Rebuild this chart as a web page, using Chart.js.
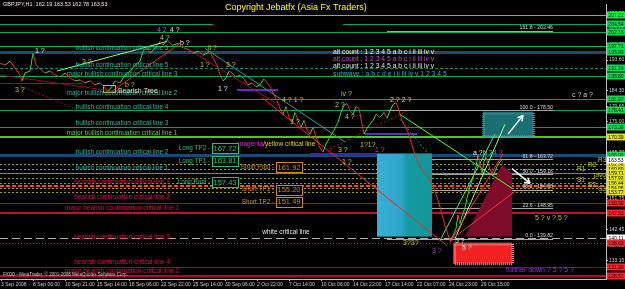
<!DOCTYPE html>
<html>
<head>
<meta charset="utf-8">
<script src="https://cdn.jsdelivr.net/npm/chart.js@4.4.0/dist/chart.umd.min.js"></script>
<style>
html,body{margin:0;padding:0;background:#000;}
canvas{display:block;}
</style>
</head>
<body>
<canvas id="grafico" width="625" height="289"></canvas>
<script>
// Precio GBPJPY H1 (indice de barra, precio)
const barrasPrecio = [0,10,20,30,40,44,50,60,66,72, 80,90,100,110,120,130,140,150,160,170,
    180,190,200,210,216,224,230,240,250,260, 270,280,286,294,300,310,320,326,334,344,
    356,364,376,386,396,406,414,420,426,434, 440,446,452,458,464,472,480,488,496,504,
    512,520,528,534,540,548,554,560,566,572, 578,584,590,596,602,608,614,620,626,634,
    640,646,652,660,668,676,682,688,694,700, 706,712,718,724,728,734,740,746,752,760,
    768,774,780,786,792,798,804,810,816,822, 828,834,840,846,854,860,866,872,878,884,
    890,896,900,906,912,916,920,924,930,934, 940,946,952,956,960,964,968,972,976,982,
    988,994,1000,1004];
const valoresPrecio = [192.66,192.07,193.26,191.18,189.10,187.32,189.69,190.29,195.63,192.07,
    190.88,189.69,190.29,189.10,188.51,189.69,188.21,187.32,187.61,186.72,
    187.32,186.13,186.72,185.24,184.35,185.54,187.32,186.72,189.10,190.29,
    192.07,193.26,196.23,197.41,195.63,197.12,199.19,198.01,199.79,198.01,
    198.60,197.41,196.82,195.63,196.23,195.04,195.63,196.23,194.15,192.07,
    189.10,187.32,188.21,190.29,189.69,188.51,189.10,187.91,186.13,186.72,
    185.54,186.13,187.91,186.72,185.54,183.16,181.38,179.00,177.22,179.60,
    176.33,174.85,177.82,175.44,173.36,175.44,172.47,171.29,173.36,169.50,
    167.13,165.94,168.32,170.39,172.47,174.85,177.82,179.90,180.49,178.41,
    177.22,179.60,179.00,174.25,171.29,173.07,174.25,175.44,177.22,176.33,
    177.82,176.04,178.41,180.19,180.79,178.41,175.44,173.66,171.88,168.91,
    165.94,163.57,161.49,160.00,158.82,157.63,155.55,153.17,150.50,146.94,
    143.67,141.00,139.22,140.70,142.78,146.94,144.27,146.64,149.02,151.99,
    155.55,158.22,161.49,165.05,162.38,159.41,162.97,164.46,162.38,160.00,
    159.41,161.49,162.97,163.57];
const precioActual = 163.53;

// Eje de tiempo
const barrasFecha = [2,66,130,194,258,322,386,450,514,578,642,706,770,834,898,962];
const etiquetasFecha = ["3 Sep 2008","8 Sep 06:00","10 Sep 21:00","15 Sep 14:00","18 Sep 06:00",
    "22 Sep 22:00","25 Sep 14:00","30 Sep 06:00","2 Oct 22:00","7 Oct 14:00","10 Oct 06:00",
    "14 Oct 22:00","17 Oct 14:00","22 Oct 07:00","24 Oct 23:00","29 Oct 15:00"];
const ticksPrecio = [128.50,133.15,137.80,142.45,147.10,151.75,156.40,161.05,165.70,170.35,
    175.00,179.65,184.30,188.95,193.60,198.25,202.90,207.55];

// Lineas criticas horizontales
const nivelesCriticos = [207.21,204.54,202.16,197.71,195.93,191.18,188.80,181.97,178.41,173.36,
    170.39,165.05,159.71,155.55,150.50,147.53,140.11,138.63,131.20,128.53];
const textosCriticos = ["bullish continuation critical line 5","bullish continuation critical line 5",
    "major bullish continuation critical line 3","major bullish continuation critical line 2",
    "bullish continuation critical line 4","bullish continuation critical line 3",
    "major bullish continuation critical line 1","bullish continuation critical line 2",
    "bullish continuation critical line 1","bearish continuation critical line 1",
    "bearish continuation critical line 2","major bearish continuation critical line 1",
    "bearish continuation critical line 3","bearish continuation critical line 4",
    "major bearish continuation critical line 2"];
const preciosTextosCriticos = [197.12,192.07,189.40,183.75,179.30,174.55,171.58,165.94,160.89,
    156.74,152.28,149.02,140.11,132.69,130.02];

// Pivotes
const nombresPivote = ["R3","R2","R1","pivot","S1","S2","S3"];
const preciosPivote = [162.38,160.89,159.71,157.92,156.44,154.96,153.77];
const barrasPivote = [1196,1176,1154,1188,1154,1176,1196];

// Fibonacci
const fiboPorcentaje = ["161.8","100.0","61.8","50.0","38.2","23.6","0.0"];
const fiboPrecio = [202.46,178.50,163.72,159.16,154.58,148.95,139.82];
const fiboBarras = [774,1106];

// Operaciones
const etiquetasOperacion = ["Long TP2","Long TP1","Long Post","Short Post","Short TP1","Short TP2"];
const preciosOperacion = [167.72,163.81,157.43,161.92,155.20,151.49];

// Objetos dibujados
const tramosTendencia = [
    [220,183.75,360,198.60],[524,182.27,894,137.73],[364,198.01,550,180.79],[0,189.10,220,184.35],
    [40,185.83,154,178.71],[800,177.22,1024,154.96],[880,139.22,990,171.29],[910,139.81,1010,174.25],
    [900,138.63,1006,165.35],[900,139.22,1030,154.06],[410,197.12,690,168.91],[800,175.74,934,151.09],
    [114,190.29,334,199.19],[660,166.83,820,178.71]];
const tramosHorizontales = [[0,166,186.72],[474,556,184.65],[730,834,171.29],[620,864,165.35]];
const rectangulos = [[754,864,165.35,140.41],[966,1066,177.82,170.69],[908,1024,138.33,132.39],[206,230,186.13,184.05]];
const poligonoBajista = [[1004,162.08],[1024,159.41],[1024,140.41],[930,140.41]];
const flechas = [[1016,171.29,1046,176.93],[1024,160.89,1060,156.44]];

// Conteo de ondas
const ondasTexto = ["3 ?","1 ?","3 ?","4 2","4 ?","4 ?","b ?","b ?","1 ?","ii ?","3 ?","1 ?","4 ? 1 ?",
    "iv ?","2 ? 2 ?","1 ?","2 ?","4 ?","3 ?","1 ?","1?1?","1 ?","3?3?","3 ?","5 ?","5 ?",
    "a ?","b ?","4 ?","c ? a ?","5 ? v ? 5 ?","further down ? 5 ? 5 ?"];
const ondasBarra = [30,70,164,314,340,320,360,250,400,416,452,436,564,682,780,580,670,690,676,684,
    720,750,806,864,910,924,946,966,986,1144,1070,1012];
const ondasPrecio = [184.65,196.23,192.96,202.76,202.76,200.08,198.60,186.13,192.07,197.12,192.07,
    184.94,181.68,183.46,181.68,174.85,179.90,176.33,166.53,162.97,168.02,166.53,138.33,135.95,
    138.92,136.85,165.64,165.64,165.64,183.16,146.05,130.31];

const conteosAlt = ["alt count : 1 2 3 4 5 a b c i ii iii iv v","alt count : 1 2 3 4 5 a b c i ii iii iv v",
    "alt count : 1 2 3 4 5 a b c i ii iii iv v","subwave : a b c d e i ii iii iv v 1 2 3 4 5"];
const preciosConteo = [195.93,193.85,191.77,189.40];

// ---------- estilos ----------
const FUENTE = '"Liberation Sans", Arial, sans-serif';
const VERDE_TAG = "#00e050", ROJO_TAG = "#ff2030";
const estiloCritico = [
    {c:"#00ff40",w:1,t:"#00ff40"},{c:"#00a868",w:1,t:VERDE_TAG,hueco:[426,686]},{c:"#00b050",w:1,t:VERDE_TAG},
    {c:"#00c050",w:1,t:VERDE_TAG},{c:"#164c6c",w:3,t:VERDE_TAG},{c:"#008a7a",w:1,d:[3,2],t:VERDE_TAG},
    {c:"#00b050",w:1,t:VERDE_TAG},{c:"#00a060",w:1,t:VERDE_TAG},{c:"#00a070",w:1,t:VERDE_TAG},
    {c:"#00a060",w:1,t:VERDE_TAG},{c:"#50c818",w:2,t:"#e0e020"},{c:"#1a4a70",w:3,t:VERDE_TAG},
    {c:"#30a040",w:1,t:VERDE_TAG},{c:"#ff4a00",w:2,d:[4,2],t:"#ff3020"},{c:"#a01030",w:1,t:ROJO_TAG},
    {c:"#c01030",w:2,t:ROJO_TAG},{c:"#b0b0b0",w:1,d:[8,4],t:"#ffffff"},{c:"#804020",w:1,d:[1,2],t:ROJO_TAG},
    {c:"#a00020",w:1,t:ROJO_TAG},{c:"#c00030",w:2,t:ROJO_TAG}];
const colorTextoCritico = i => i === 6 ? "#5cc850" : (i < 9 ? "#2bb59a" : "#d8104c");
const estiloTendencia = [
    {c:"#ff2020"},{c:"#ff2020"},{c:"#a01020"},{c:"#901020"},{c:"#a01020",d:[2,2]},{c:"#40ff40"},
    {c:"#60e060"},{c:"#a0ff80"},{c:"#ff3030"},{c:"#ff3030"},{c:"#20a0a0"},{c:"#2090a0",d:[2,2]},
    {c:"#90ff70"},{c:"#a02010",d:[2,2]}];
const estiloHorizontal = [{c:"#2a2a9a",w:1},{c:"#6a28d0",w:2},{c:"#4a30d0",w:2},{c:"#3a2aa0",w:3}];
const colorOnda = ["#c8c800","#e0e0e0","#c8c800","#d040e0","#e0e0e0","#c8c800","#e0e0e0","#c8c800",
    "#c8c800","#c8c800","#c8c800","#e0e0e0","#c8c800","#c8c800","#d8d890","#c8c800","#c8c800","#c8c800",
    "#c8c800","#c8c800","#c8c800","#d040e0","#c8c800","#a030e0","#e0e0e0","#ffffff","#e0e0e0","#40ff40",
    "#d040e0","#d0d0d0","#c8c800","#a030e0"];
const colorConteo = ["#f0f0b0","#d040d0","#e0e0e0","#20b0c0"];

function linea(ctx, x1, y1, x2, y2, color, ancho, trazo) {
    ctx.beginPath();
    ctx.strokeStyle = color;
    ctx.lineWidth = ancho || 1;
    ctx.setLineDash(trazo || []);
    ctx.moveTo(x1, y1);
    ctx.lineTo(x2, y2);
    ctx.stroke();
    ctx.setLineDash([]);
}

function texto(ctx, t, x, y, color, tam, alinear) {
    ctx.font = `${tam}px ${FUENTE}`;
    ctx.fillStyle = color;
    ctx.textAlign = alinear || "left";
    ctx.textBaseline = "middle";
    ctx.fillText(t, x, y);
}

function nitido(v, ancho) {
    return ancho % 2 === 1 ? Math.round(v) + 0.5 : Math.round(v);
}

const objetosMT4 = {
    id: "objetosMT4",
    beforeDatasetsDraw(chart) {
        const {ctx, chartArea: a, scales: {x, y}} = chart;
        ctx.save();
        ctx.beginPath();
        ctx.rect(a.left, a.top, a.right - a.left, a.bottom - a.top);
        ctx.clip();

        // lineas criticas
        nivelesCriticos.forEach((p, i) => {
            const e = estiloCritico[i];
            const py = nitido(y.getPixelForValue(p), e.w);
            if (e.hueco) {
                linea(ctx, a.left, py, x.getPixelForValue(e.hueco[0]), py, e.c, e.w, e.d);
                linea(ctx, x.getPixelForValue(e.hueco[1]), py, a.right, py, e.c, e.w, e.d);
            } else {
                linea(ctx, a.left, py, a.right, py, e.c, e.w, e.d);
            }
        });
        // pivotes
        preciosPivote.forEach(p => {
            const py = nitido(y.getPixelForValue(p), 1);
            linea(ctx, a.left, py, a.right, py, "#a09a00", 1, [2, 2]);
        });
        // fibonacci
        fiboPrecio.forEach(p => {
            const py = nitido(y.getPixelForValue(p), 1);
            linea(ctx, x.getPixelForValue(fiboBarras[0]), py, x.getPixelForValue(fiboBarras[1]), py, "#a8a8a8", 1);
        });
        // tramos horizontales morados
        tramosHorizontales.forEach((t, i) => {
            const e = estiloHorizontal[i];
            const py = nitido(y.getPixelForValue(t[2]), e.w);
            linea(ctx, x.getPixelForValue(t[0]), py, x.getPixelForValue(t[1]), py, e.c, e.w);
        });

        // rectangulos
        const r = rectangulos.map(b => [x.getPixelForValue(b[0]), y.getPixelForValue(b[2]),
            x.getPixelForValue(b[1]), y.getPixelForValue(b[3])]);
        const grad = ctx.createLinearGradient(r[0][0], 0, r[0][2], 0);
        grad.addColorStop(0, "#3aaed6");
        grad.addColorStop(0.45, "#2aa6c8");
        grad.addColorStop(0.55, "#149aa2");
        grad.addColorStop(1, "#13979c");
        ctx.fillStyle = grad;
        ctx.fillRect(r[0][0], r[0][1], r[0][2] - r[0][0], r[0][3] - r[0][1]);
        ctx.fillStyle = "#1a6f72";
        ctx.fillRect(r[1][0], r[1][1], r[1][2] - r[1][0], r[1][3] - r[1][1]);
        ctx.setLineDash([1, 1]);
        ctx.strokeStyle = "#3c9c9c";
        ctx.strokeRect(r[1][0] + 0.5, r[1][1] + 0.5, r[1][2] - r[1][0], r[1][3] - r[1][1]);
        ctx.fillStyle = "#f22020";
        ctx.fillRect(r[2][0], r[2][1], r[2][2] - r[2][0], r[2][3] - r[2][1]);
        ctx.strokeStyle = "#ff9090";
        ctx.strokeRect(r[2][0] + 0.5, r[2][1] + 0.5, r[2][2] - r[2][0], r[2][3] - r[2][1]);
        ctx.setLineDash([]);
        ctx.strokeStyle = "#e0c000";
        ctx.lineWidth = 1;
        ctx.strokeRect(Math.round(r[3][0]) + 0.5, Math.round(r[3][1]) + 0.5, r[3][2] - r[3][0], r[3][3] - r[3][1]);

        // triangulo bajista
        ctx.beginPath();
        poligonoBajista.forEach((p, i) => {
            const px = x.getPixelForValue(p[0]), py = y.getPixelForValue(p[1]);
            if (i === 0) ctx.moveTo(px, py); else ctx.lineTo(px, py);
        });
        ctx.closePath();
        ctx.fillStyle = "#7c0c2a";
        ctx.fill();

        // lineas de tendencia
        tramosTendencia.forEach((t, i) => {
            const e = estiloTendencia[i];
            linea(ctx, x.getPixelForValue(t[0]), y.getPixelForValue(t[1]),
                x.getPixelForValue(t[2]), y.getPixelForValue(t[3]), e.c, 1, e.d);
        });

        // flechas
        flechas.forEach(f => {
            const x1 = x.getPixelForValue(f[0]), y1 = y.getPixelForValue(f[1]);
            const x2 = x.getPixelForValue(f[2]), y2 = y.getPixelForValue(f[3]);
            const ang = Math.atan2(y2 - y1, x2 - x1);
            linea(ctx, x1, y1, x2, y2, "#ffffff", 1.5);
            linea(ctx, x2, y2, x2 - 6 * Math.cos(ang - 0.5), y2 - 6 * Math.sin(ang - 0.5), "#ffffff", 1.5);
            linea(ctx, x2, y2, x2 - 6 * Math.cos(ang + 0.5), y2 - 6 * Math.sin(ang + 0.5), "#ffffff", 1.5);
        });
        ctx.restore();
    },
    afterDatasetsDraw(chart) {
        const {ctx, chartArea: a, scales: {x, y}} = chart;
        ctx.save();

        // textos de lineas criticas
        textosCriticos.forEach((t, i) => {
            texto(ctx, t, x.getPixelForValue(244), y.getPixelForValue(preciosTextosCriticos[i]), colorTextoCritico(i), 6.5, "center");
        });
        texto(ctx, "white critical line", x.getPixelForValue(572), y.getPixelForValue(141.59), "#e8e8e8", 6.5, "center");

        // magenta/yellow
        const mx = x.getPixelForValue(476), my = y.getPixelForValue(168.32);
        texto(ctx, "magenta", mx, my, "#e020e0", 6.5);
        const ancho = ctx.measureText("magenta").width;
        texto(ctx, "/yellow critical line", mx + ancho, my, "#d8d800", 6.5);

        // operaciones
        etiquetasOperacion.forEach((t, i) => {
            const largo = i < 3;
            const color = largo ? "#28c070" : "#d08a10";
            const cx = x.getPixelForValue(largo ? 450 : 578);
            const cy = y.getPixelForValue(preciosOperacion[i]) + 2;
            texto(ctx, t + " -", cx - 15, cy, color, 6.3, "right");
            ctx.fillStyle = "#000";
            ctx.fillRect(cx - 13, cy - 5, 26, 10);
            ctx.strokeStyle = color;
            ctx.lineWidth = 1;
            ctx.strokeRect(Math.round(cx - 13) + 0.5, Math.round(cy - 5) + 0.5, 26, 10);
            texto(ctx, preciosOperacion[i].toFixed(2), cx, cy + 0.5, color, 7.5, "center");
        });

        // fibonacci
        fiboPrecio.forEach((p, i) => {
            texto(ctx, fiboPorcentaje[i] + " - " + p.toFixed(2), x.getPixelForValue(fiboBarras[1]),
                y.getPixelForValue(p) - 3, "#d8d8d8", 5.2, "right");
        });

        // pivotes
        nombresPivote.forEach((t, i) => {
            texto(ctx, t, x.getPixelForValue(barrasPivote[i]), y.getPixelForValue(preciosPivote[i]) - 3,
                "#d0d020", 6.5, t === "pivot" ? "left" : "left");
        });

        // ondas
        ondasTexto.forEach((t, i) => {
            texto(ctx, t, x.getPixelForValue(ondasBarra[i]), y.getPixelForValue(ondasPrecio[i]), colorOnda[i], 7);
        });
        conteosAlt.forEach((t, i) => {
            texto(ctx, t, x.getPixelForValue(666), y.getPixelForValue(preciosConteo[i]), colorConteo[i], 6.8);
        });
        texto(ctx, "Bearish Tree", x.getPixelForValue(236), y.getPixelForValue(184.35), "#e0e0c0", 7);

        // cabecera y titulo
        texto(ctx, "GBPJPY,H1  162.19 163.53 162.78 163.53", 3, 4, "#e8e8e8", 5.5);
        texto(ctx, "Copyright Jebatfx (Asia Fx Traders)", 225, 7.5, "#ffff00", 9);
        texto(ctx, "FXDD - MetaTrader, \u00a9 2001-2008 MetaQuotes Software Corp.", 3, a.bottom - 4, "#c8c8c8", 4.5);

        // etiquetas de precio en el eje
        const etiqueta = (p, fondo) => {
            const py = Math.round(y.getPixelForValue(p));
            ctx.fillStyle = fondo;
            ctx.fillRect(a.right + 1, py - 3.5, 18, 7);
            texto(ctx, p.toFixed(2), a.right + 10, py + 0.3, "#000", 5, "center");
        };
        nivelesCriticos.forEach((p, i) => etiqueta(p, estiloCritico[i].t));
        preciosPivote.forEach(p => etiqueta(p, "#e0e020"));
        etiqueta(precioActual, "#ffffff");
        ctx.restore();
    }
};

document.addEventListener("DOMContentLoaded", function () {
    new Chart(document.getElementById("grafico"), {
        type: "line",
        data: {
            datasets: [{
                label: "GBPJPY,H1",
                data: barrasPrecio.map((b, i) => ({x: b, y: valoresPrecio[i]})),
                borderWidth: 1,
                pointRadius: 0,
                tension: 0,
                segment: {
                    borderColor: c => c.p1.parsed.y >= c.p0.parsed.y ? "#30e030" : "#e83018"
                }
            }]
        },
        options: {
            responsive: false,
            animation: false,
            devicePixelRatio: 1,
            layout: {padding: 0},
            plugins: {legend: {display: false}, tooltip: {enabled: false}},
            scales: {
                x: {
                    type: "linear",
                    min: 0,
                    max: 1212,
                    grid: {drawOnChartArea: false, color: "#c0c0c0", tickLength: 2},
                    border: {color: "#c0c0c0"},
                    afterBuildTicks: s => { s.ticks = barrasFecha.map(v => ({value: v})); },
                    afterFit: s => { s.height = 10; },
                    ticks: {
                        align: "start",
                        autoSkip: false,
                        maxRotation: 0,
                        padding: 1,
                        color: "#c8c8c8",
                        font: {size: 5, family: FUENTE},
                        callback: (v, i) => etiquetasFecha[i]
                    }
                },
                y: {
                    position: "right",
                    min: 127.64,
                    max: 210.48,
                    grid: {drawOnChartArea: false, color: "#c0c0c0", tickLength: 2},
                    border: {color: "#c0c0c0"},
                    afterBuildTicks: s => { s.ticks = ticksPrecio.map(v => ({value: v})); },
                    afterFit: s => { s.width = 19; },
                    ticks: {
                        autoSkip: false,
                        padding: 1,
                        color: "#c8c8c8",
                        font: {size: 5, family: FUENTE},
                        callback: v => v.toFixed(2)
                    }
                }
            }
        },
        plugins: [objetosMT4]
    });
});
</script>
</body>
</html>
